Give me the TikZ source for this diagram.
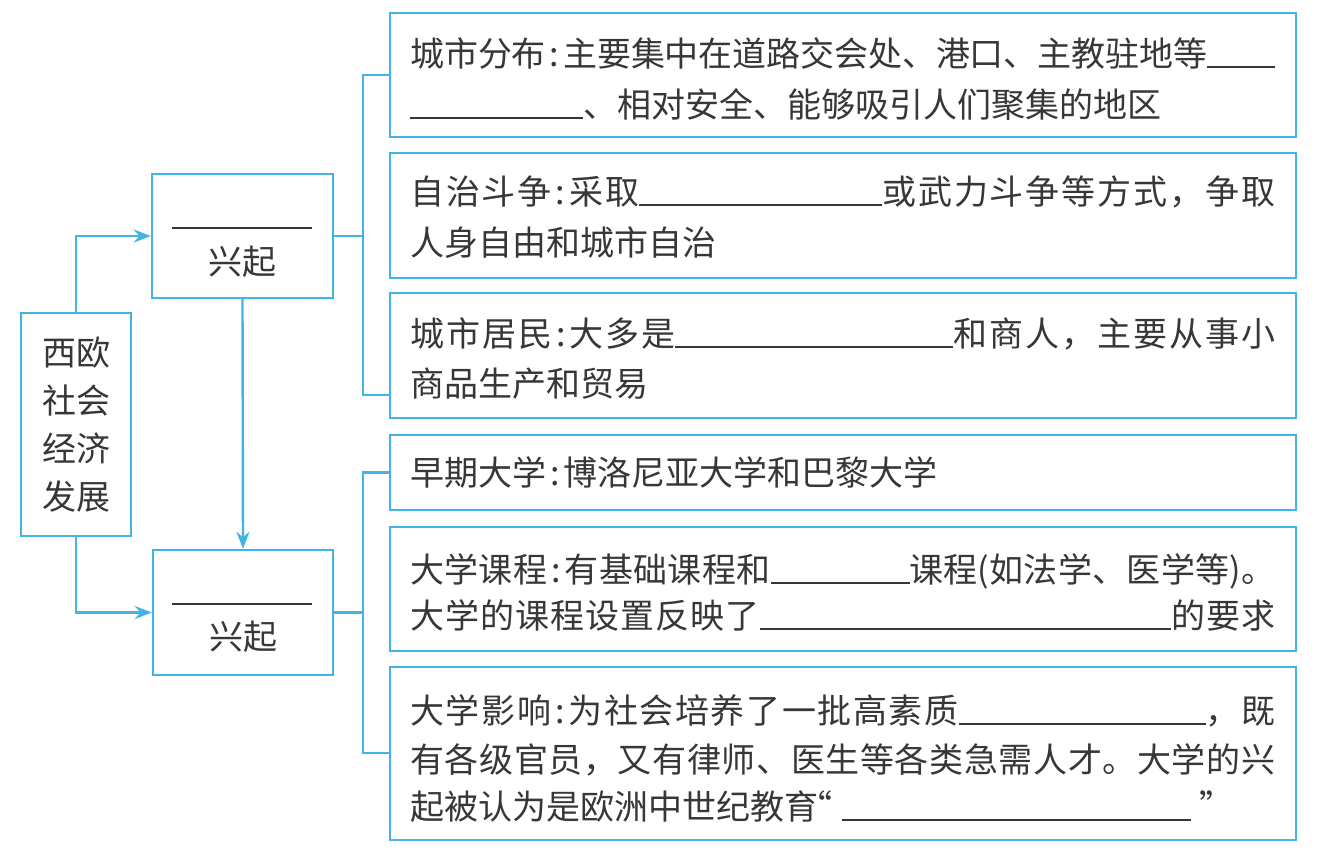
\documentclass[tikz,border=0pt]{standalone}
\usepackage{fontspec}
\setmainfont{Noto Sans CJK SC}
\usetikzlibrary{arrows.meta}
% inter-character glue for CJK so that full lines can be justified
\chardef\mycjkclass=7
\newcount\mycjkcnt
\newcommand{\setcjkrange}[2]{%
  \mycjkcnt=#1\relax
  \loop \XeTeXcharclass\mycjkcnt=\mycjkclass \advance\mycjkcnt by 1
  \ifnum\mycjkcnt<#2\relax \repeat}
\setcjkrange{"3000}{"3040}
\setcjkrange{"4E00}{"A000}
\setcjkrange{"FF00}{"FFF0}
\XeTeXcharclass"201C=\mycjkclass
\XeTeXcharclass"201D=\mycjkclass
\XeTeXinterchartoks\mycjkclass\mycjkclass={\hskip 0pt plus 4pt minus 1.5pt\relax}
\XeTeXinterchartokenstate=1
\definecolor{lblue}{RGB}{66,180,228}
\definecolor{ink}{RGB}{55,55,55}
\newcommand{\blank}[1]{\rule[-1.5pt]{#1}{1.3pt}}
\newcommand{\cln}{\kern4pt:\kern4pt}
\newcommand{\jline}[1]{\makebox[865pt][s]{#1}}
\begin{document}
\begin{tikzpicture}[x=1pt,y=-1pt,
  box/.style={draw=lblue, line width=2.4pt, rectangle, inner sep=0pt},
  conn/.style={draw=lblue, line width=2.4pt},
  arr/.style={conn, -{Stealth[length=17pt,width=13pt]}, lblue},
  txt/.style={anchor=base west, inner sep=0pt, text=ink, font=\fontsize{34pt}{40pt}\selectfont},
  ctxt/.style={inner sep=0pt, text=ink, font=\fontsize{34pt}{48pt}\selectfont, align=center}]
\useasboundingbox[fill=white] (0,0) rectangle (1324,855);

% boxes
\node[box, minimum width=110pt, minimum height=223pt, ctxt] (L) at (76,424.5) {西欧\\社会\\经济\\发展};
\node[box, minimum width=181pt, minimum height=124pt] (M1) at (242.5,236) {};
\node[box, minimum width=180pt, minimum height=125pt] (M2) at (243,612.5) {};
\node[box, minimum width=906pt, minimum height=124pt] (B1) at (843,75) {};
\node[box, minimum width=906pt, minimum height=125pt] (B2) at (843,215.5) {};
\node[box, minimum width=906pt, minimum height=125pt] (B3) at (843,355.5) {};
\node[box, minimum width=906pt, minimum height=75pt] (B4) at (843,472.5) {};
\node[box, minimum width=906pt, minimum height=124pt] (B5) at (843,589) {};
\node[box, minimum width=906pt, minimum height=173pt] (B6) at (843,753.5) {};

% middle box texts
\node[ctxt] (M1u) at (242,228) {\rule{140pt}{1.3pt}};
\node[ctxt] (M1t) at (242.5,262) {兴起};
\node[ctxt] (M2u) at (242,604) {\rule{140pt}{1.3pt}};
\node[ctxt] (M2t) at (243,637) {兴起};

% right texts
\node[txt] (t11) at (410,66) {\jline{城市分布\cln 主要集中在道路交会处、港口、主教驻地等\blank{68pt}}};
\node[txt] (t12) at (410,117) {\blank{173pt}、相对安全、能够吸引人们聚集的地区};
\node[txt] (t21) at (410,204) {\jline{自治斗争\cln 采取\blank{243pt}或武力斗争等方式，争取}};
\node[txt] (t22) at (410,255) {人身自由和城市自治};
\node[txt] (t31) at (410,346) {\jline{城市居民\cln 大多是\blank{278pt}和商人，主要从事小}};
\node[txt] (t32) at (410,396) {商品生产和贸易};
\node[txt] (t41) at (410,485) {早期大学\cln 博洛尼亚大学和巴黎大学};
\node[txt] (t51) at (410,582) {\jline{大学课程\cln 有基础课程和\blank{139pt}课程(如法学、医学等)。}};
\node[txt] (t52) at (410,628) {\jline{大学的课程设置反映了\blank{411pt}的要求}};
\node[txt] (t61) at (410,723) {\jline{大学影响\cln 为社会培养了一批高素质\blank{247pt}，既}};
\node[txt] (t62) at (410,772) {\jline{有各级官员，又有律师、医生等各类急需人才。大学的兴}};
\node[txt] (t63) at (410,819) {起被认为是欧洲中世纪教育\kern-20pt“\kern10pt\blank{349pt}\kern8pt”};

% arrows
\draw[arr] (L.north) |- (M1.west);
\draw[arr] (L.south) |- (M2.west);
\draw[arr] (M1.south) -- (M2.north);

% brackets
\coordinate (u1) at (363,75);
\coordinate (u3) at (363,395);
\coordinate (e3) at (390,395);
\draw[conn] (B1.west) -- (u1) -- (u3) -- (e3);
\draw[conn] (M1.east) -- (M1.east -| u1);
\coordinate (d1) at (363,472.5);
\coordinate (d3) at (363,753);
\coordinate (e6) at (390,753);
\draw[conn] (B4.west) -- (d1) -- (d3) -- (e6);
\draw[conn] (M2.east) -- (M2.east -| d1);
\end{tikzpicture}
\end{document}
